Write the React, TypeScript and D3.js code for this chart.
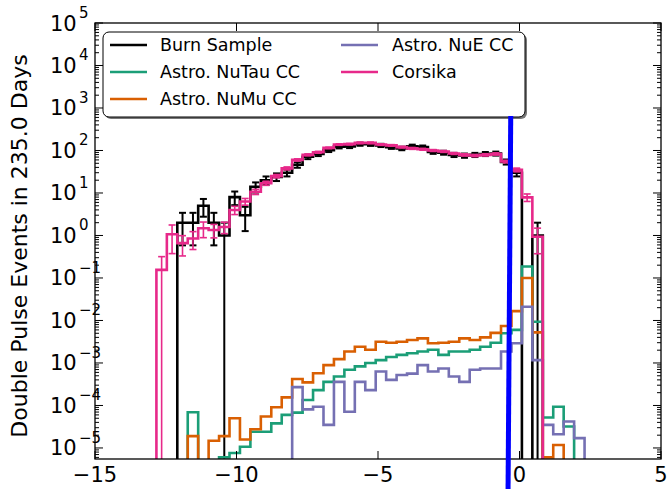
import React from 'react';
import * as d3 from 'd3';

const WIDTH = 669;
const HEIGHT = 489;
const PLOT = { left: 95, right: 661, top: 23, bottom: 459 };

const X_DOMAIN = [-15, 5];
const Y_DOMAIN = [5.5e-6, 1e5];
const X_TICKS = [-15, -10, -5, 0, 5];
const Y_EXPONENTS = [-5, -4, -3, -2, -1, 0, 1, 2, 3, 4, 5];

const BIN_START = -12.83;
const BIN_WIDTH = 0.369;
const N_BINS = 41;

const burnSample = [0, 0, 2, 2, 5, 2, 1, 8, 3, 14, 20, 24, 30, 46, 71, 83, 102, 123, 125, 141, 140, 132, 120, 112, 126, 120, 93, 89, 79, 76, 79, 83, 85, 54, 30, 0, 1, 0, 0, 0, 0];
const corsika = [0.155, 1.07, 0.66, 0.85, 1.48, 1.35, 1.58, 3.98, 6.3, 10.7, 17, 25, 38, 60, 79, 91, 115, 138, 141, 151, 151, 138, 132, 120, 112, 107, 100, 95, 85, 79, 76, 79, 83, 55, 35, 7.9, 0.93, 0, 0, 0, 0];
const corsikaRelErr = [1.05, 0.65, 0.5, 0.45, 0.4, 0.35, 0.3, 0.22, 0.18, 0.14, 0.11, 0.09, 0.08, 0.06, 0.05, 0.05, 0.04, 0.04, 0.04, 0.04, 0.04, 0.04, 0.04, 0.04, 0.05, 0.05, 0.05, 0.05, 0.05, 0.06, 0.06, 0.06, 0.06, 0.07, 0.1, 0.2, 0.6, 0, 0, 0, 0];
const nuTau = [0, 0, 0, 6.9e-5, 0, 0, 6.0e-6, 7.6e-6, 1.07e-5, 2.4e-5, 2.4e-5, 3.8e-5, 6.0e-5, 6.8e-5, 1.35e-4, 2.3e-4, 3.6e-4, 4.8e-4, 6.9e-4, 8.3e-4, 1.0e-3, 1.17e-3, 1.38e-3, 1.55e-3, 1.7e-3, 1.86e-3, 2.04e-3, 1.55e-3, 1.86e-3, 1.86e-3, 2.04e-3, 2.4e-3, 3.0e-3, 5.0e-3, 6.0e-3, 0.186, 9.3e-3, 5.2e-5, 9.3e-5, 3.2e-5, 0];
const nuMu = [0, 0, 0, 1.9e-5, 0, 1.48e-5, 1.9e-5, 5.0e-5, 1.58e-5, 2.75e-5, 5.5e-5, 9.1e-5, 1.55e-4, 4.2e-4, 3.5e-4, 5.75e-4, 8.9e-4, 1.23e-3, 1.86e-3, 2.4e-3, 2.04e-3, 3.16e-3, 3.0e-3, 3.16e-3, 3.47e-3, 3.8e-3, 2.9e-3, 3.0e-3, 3.16e-3, 3.8e-3, 3.47e-3, 4.0e-3, 5.1e-3, 7.4e-3, 1.66e-2, 0.1, 5.25e-3, 6.0e-6, 1.17e-5, 0, 0];
const nuE = [0, 0, 0, 0, 0, 0, 0, 0, 0, 0, 0, 0, 0, 2.7e-4, 8.1e-5, 9.3e-5, 3.5e-5, 3.6e-4, 7.1e-5, 3.6e-4, 2.3e-4, 6.3e-4, 4.0e-4, 5.2e-4, 5.6e-4, 8.9e-4, 6.3e-4, 7.4e-4, 4.8e-4, 3.6e-4, 6.9e-4, 7.4e-4, 7.4e-4, 1.86e-3, 2.9e-3, 2.1e-2, 1.17e-3, 3.5e-5, 2.1e-5, 4.2e-5, 1.7e-5];

const CUT_X = [-0.31, -0.41];
const CUT_Y = [650, 3e-7];

const COLORS = {
  burn: '#000000',
  nuTau: '#1b9e77',
  nuMu: '#d95f02',
  nuE: '#7570b3',
  corsika: '#e7298a',
  cut: '#0000ff',
};

const LEGEND_COL1 = [
  { label: 'Burn Sample', color: COLORS.burn },
  { label: 'Astro. NuTau CC', color: COLORS.nuTau },
  { label: 'Astro. NuMu CC', color: COLORS.nuMu },
];
const LEGEND_COL2 = [
  { label: 'Astro. NuE CC', color: COLORS.nuE },
  { label: 'Corsika', color: COLORS.corsika },
];

const FONT = 'DejaVu Sans, sans-serif';

export default function App() {
  const x = d3.scaleLinear().domain(X_DOMAIN).range([PLOT.left, PLOT.right]);
  const y = d3.scaleLog().domain(Y_DOMAIN).range([PLOT.bottom, PLOT.top]);
  const edges = d3.range(N_BINS + 1).map((i) => BIN_START + i * BIN_WIDTH);
  const centers = d3.range(N_BINS).map((i) => BIN_START + (i + 0.5) * BIN_WIDTH);
  const FLOOR = PLOT.bottom + 60;
  const yv = (v: number) => (v > 0 ? y(v) : FLOOR);

  const stepPath = (vals: number[]) => {
    let d = `M${x(edges[0])},${FLOOR}`;
    vals.forEach((v, i) => {
      d += `L${x(edges[i])},${yv(v)}L${x(edges[i + 1])},${yv(v)}`;
    });
    d += `L${x(edges[N_BINS])},${FLOOR}`;
    return d;
  };

  const errorBars = (vals: number[], errs: number[], color: string, sw: number, key: string) =>
    vals.map((v, i) => {
      if (!(v > 0) || !(errs[i] > 0)) return null;
      const cx = x(centers[i]);
      const lo = v - errs[i];
      const hi = v + errs[i];
      const yl = lo > 0 ? y(lo) : FLOOR;
      const yh = y(hi);
      return (
        <g key={`${key}${i}`} stroke={color} strokeWidth={sw}>
          <line x1={cx} x2={cx} y1={yl} y2={yh} />
          <line x1={cx - 3.5} x2={cx + 3.5} y1={yh} y2={yh} />
          {lo > 0 && <line x1={cx - 3.5} x2={cx + 3.5} y1={yl} y2={yl} />}
        </g>
      );
    });

  const burnErr = burnSample.map((v) => Math.sqrt(v));
  const corsikaErr = corsika.map((v, i) => v * corsikaRelErr[i]);

  const minorTicks: number[] = [];
  for (let e = -6; e <= 5; e++) {
    for (let m = 2; m <= 9; m++) {
      const v = m * Math.pow(10, e);
      if (v >= Y_DOMAIN[0] && v <= Y_DOMAIN[1]) minorTicks.push(v);
    }
  }

  const fmtNum = (n: number) => (n < 0 ? '\u2212' + Math.abs(n) : String(n));

  const legend = { x: 103, y: 32, w: 422, h: 85 };

  return (
    <svg
      width={WIDTH}
      height={HEIGHT}
      style={{ position: 'absolute', left: 0, top: 0, background: '#fff' }}
      fontFamily={FONT}
    >
      <defs>
        <clipPath id="plotclip">
          <rect x={PLOT.left} y={PLOT.top} width={PLOT.right - PLOT.left} height={PLOT.bottom - PLOT.top} />
        </clipPath>
      </defs>
      <rect x={0} y={0} width={WIDTH} height={HEIGHT} fill="#fff" />

      <g clipPath="url(#plotclip)" fill="none" strokeLinejoin="miter">
        <path d={stepPath(burnSample)} stroke={COLORS.burn} strokeWidth={2.6} />
        {errorBars(burnSample, burnErr, COLORS.burn, 2, 'b')}
        <path d={stepPath(nuTau)} stroke={COLORS.nuTau} strokeWidth={2.6} />
        <path d={stepPath(nuMu)} stroke={COLORS.nuMu} strokeWidth={2.6} />
        <path d={stepPath(nuE)} stroke={COLORS.nuE} strokeWidth={2.6} />
        <path d={stepPath(corsika)} stroke={COLORS.corsika} strokeWidth={2.6} />
        {errorBars(corsika, corsikaErr, COLORS.corsika, 1.6, 'c')}
      </g>

      {/* axes frame */}
      <rect
        x={PLOT.left}
        y={PLOT.top}
        width={PLOT.right - PLOT.left}
        height={PLOT.bottom - PLOT.top}
        fill="none"
        stroke="#000"
        strokeWidth={1.3}
      />

      {/* x ticks */}
      {X_TICKS.map((t) => (
        <g key={`xt${t}`}>
          <line x1={x(t)} x2={x(t)} y1={PLOT.bottom} y2={PLOT.bottom - 8} stroke="#000" strokeWidth={1} />
          <line x1={x(t)} x2={x(t)} y1={PLOT.top} y2={PLOT.top + 8} stroke="#000" strokeWidth={1} />
          <text x={x(t)} y={482} textAnchor="middle" fontSize={21} fill="#000">
            {fmtNum(t)}
          </text>
        </g>
      ))}

      {/* y ticks */}
      {Y_EXPONENTS.map((e) => {
        const ty = y(Math.pow(10, e));
        return (
          <g key={`yt${e}`}>
            <line x1={PLOT.left} x2={PLOT.left + 8} y1={ty} y2={ty} stroke="#000" strokeWidth={1} />
            <line x1={PLOT.right} x2={PLOT.right - 8} y1={ty} y2={ty} stroke="#000" strokeWidth={1} />
            <text x={50} y={ty + 7.5} fontSize={21} fill="#000">
              10
            </text>
            <text x={79} y={ty - 5} fontSize={15} fill="#000">
              {fmtNum(e)}
            </text>
          </g>
        );
      })}
      {minorTicks.map((v, i) => (
        <g key={`ym${i}`}>
          <line x1={PLOT.left} x2={PLOT.left + 4} y1={y(v)} y2={y(v)} stroke="#000" strokeWidth={1} />
          <line x1={PLOT.right} x2={PLOT.right - 4} y1={y(v)} y2={y(v)} stroke="#000" strokeWidth={1} />
        </g>
      ))}

      {/* y label */}
      <text
        transform={`translate(27,${(PLOT.top + PLOT.bottom) / 2 + 5}) rotate(-90)`}
        textAnchor="middle"
        fontSize={22}
        fill="#000"
      >
        Double Pulse Events in 235.0 Days
      </text>

      {/* legend */}
      <rect x={legend.x + 2} y={legend.y + 2} width={legend.w} height={legend.h} rx={6} fill="#777" />
      <rect x={legend.x} y={legend.y} width={legend.w} height={legend.h} rx={6} fill="#fff" stroke="#000" strokeWidth={1} />
      {LEGEND_COL1.map((it, i) => (
        <g key={`l1${i}`}>
          <line x1={110} x2={147} y1={45 + i * 27} y2={45 + i * 27} stroke={it.color} strokeWidth={2.6} />
          <text x={160} y={51 + i * 27} fontSize={17.5} fill="#000">
            {it.label}
          </text>
        </g>
      ))}
      {LEGEND_COL2.map((it, i) => (
        <g key={`l2${i}`}>
          <line x1={341} x2={378} y1={45 + i * 27} y2={45 + i * 27} stroke={it.color} strokeWidth={2.6} />
          <text x={392} y={51 + i * 27} fontSize={17.5} fill="#000">
            {it.label}
          </text>
        </g>
      ))}

      {/* cut line */}
      <line
        x1={x(CUT_X[0])}
        x2={x(CUT_X[1])}
        y1={y(CUT_Y[0])}
        y2={y(CUT_Y[1])}
        stroke={COLORS.cut}
        strokeWidth={5}
      />
    </svg>
  );
}
